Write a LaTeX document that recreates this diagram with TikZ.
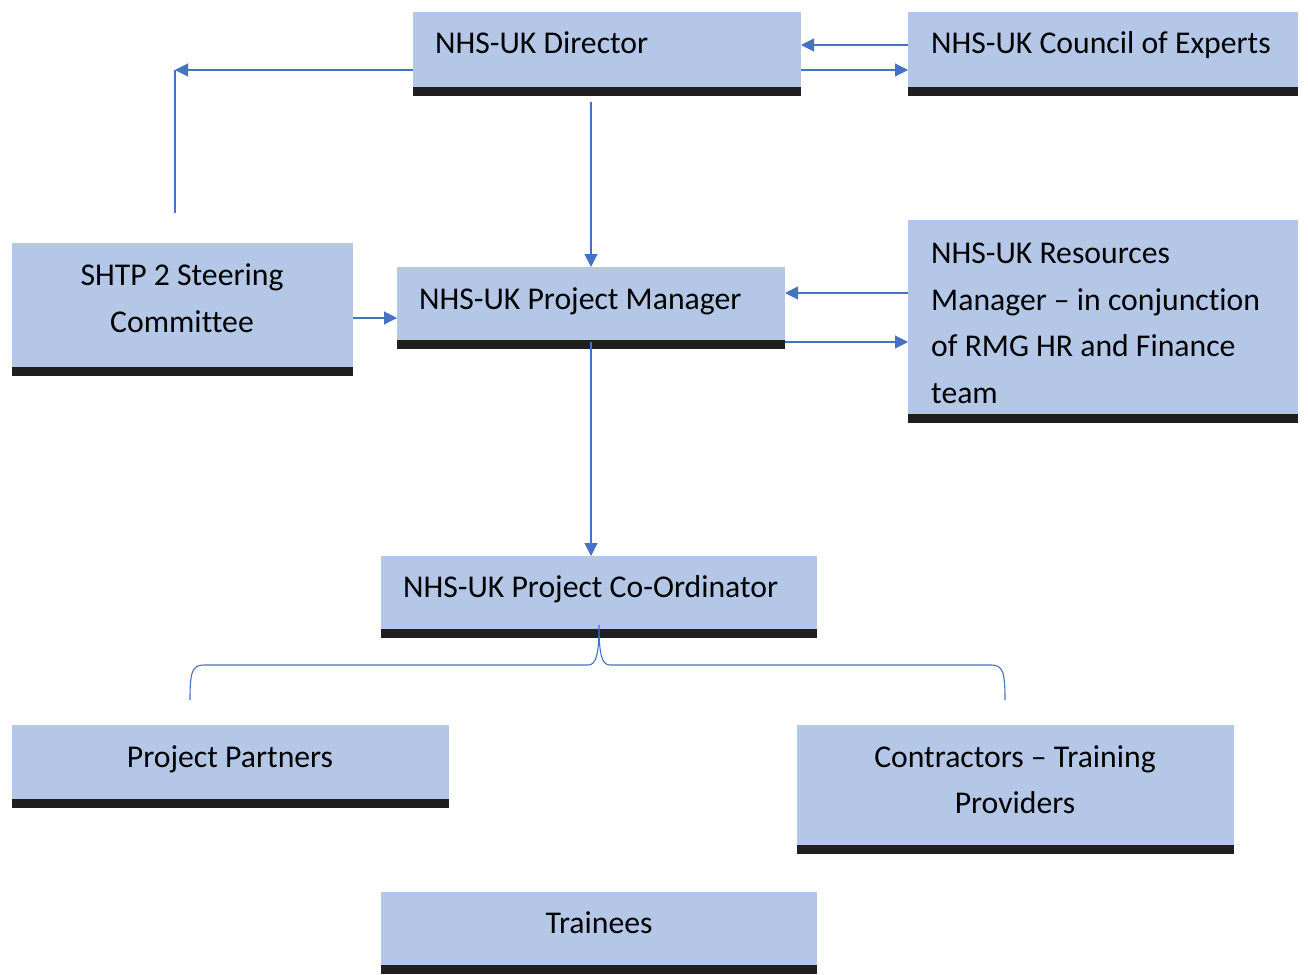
\documentclass[tikz,border=0pt]{standalone}
\usepackage{fontspec}
\setmainfont[Ligatures={NoCommon}]{Carlito}
\usetikzlibrary{shadows,arrows.meta}
\definecolor{boxblue}{HTML}{B4C7E7}
\definecolor{lineblue}{HTML}{4472C4}
\begin{document}
\begin{tikzpicture}[x=1pt,y=-1pt,
  box/.style={fill=boxblue, inner sep=0pt, outer sep=0pt, anchor=north west,
    drop shadow={shadow xshift=0pt, shadow yshift=-9pt, fill=black, opacity=0.88}},
  lbl/.style={font=\fontsize{31.7}{47}\selectfont, inner sep=0pt, text=black},
  conn/.style={draw=lineblue, line width=1.1pt},
  arr/.style={conn, -{Triangle[length=13pt,width=13pt]}}]
\useasboundingbox (0,0) rectangle (1308,974);
% boxes
\node[box, minimum width=388pt, minimum height=75pt] (dir) at (413,12) {};
\node[box, minimum width=390pt, minimum height=75pt] (coun) at (908,12) {};
\node[box, minimum width=341pt, minimum height=124pt] (shtp) at (12,243) {};
\node[box, minimum width=388pt, minimum height=73pt] (pm) at (397,267) {};
\node[box, minimum width=390pt, minimum height=194pt] (res) at (908,220) {};
\node[box, minimum width=436pt, minimum height=73pt] (coord) at (381,556) {};
\node[box, minimum width=437pt, minimum height=74pt] (part) at (12,725) {};
\node[box, minimum width=437pt, minimum height=120pt] (contr) at (797,725) {};
\node[box, minimum width=436pt, minimum height=73pt] (train) at (381,892) {};
% texts
\node[lbl, anchor=base west] (tdir) at (435,53) {NHS-UK Director};
\node[lbl, anchor=base west] (tcoun) at (931,53) {NHS-UK Council of Experts};
\node[lbl, anchor=base] (tshtpa) at (182,285) {SHTP 2 Steering};
\node[lbl, anchor=base] (tshtpb) at (182,332) {Committee};
\node[lbl, anchor=base west] (tpm) at (419,309) {NHS-UK Project Manager};
\node[lbl, anchor=base west] (tresa) at (931,263) {NHS-UK Resources};
\node[lbl, anchor=base west] (tresb) at (931,310) {Manager -- in conjunction};
\node[lbl, anchor=base west] (tresc) at (931,356) {of RMG HR and Finance};
\node[lbl, anchor=base west] (tresd) at (931,403) {team};
\node[lbl, anchor=base west] (tcoord) at (403,597) {NHS-UK Project Co-Ordinator};
\node[lbl, anchor=base] (tpart) at (230,767) {Project Partners};
\node[lbl, anchor=base] (tcontra) at (1015,767) {Contractors -- Training};
\node[lbl, anchor=base] (tcontrb) at (1015,813) {Providers};
\node[lbl, anchor=base] (ttrain) at (599,933) {Trainees};
% helper coordinates
\coordinate (h45) at (0,45);
\coordinate (h70) at (0,70);
\coordinate (h293) at (0,293);
\coordinate (h318) at (0,318);
\coordinate (h342) at (0,342);
\coordinate (sc) at (175,70);
\coordinate (sb) at (175,213);
\coordinate (dstart) at (591,102);
\coordinate (pstart) at (591,342);
\coordinate (btip) at (599,625);
\coordinate (bl) at (190,700);
\coordinate (br) at (1005,700);
% connectors
\draw[arr] (coun.west |- h45) -- (dir.east |- h45);
\draw[arr] (dir.east |- h70) -- (coun.west |- h70);
\draw[arr] (dir.west |- h70) -- (sc);
\draw[conn] (sc) -- (sb);
\draw[arr] (dstart) -- (pm.north);
\draw[arr] (shtp.east |- h318) -- (pm.west |- h318);
\draw[arr] (res.west |- h293) -- (pm.east |- h293);
\draw[arr] (pm.east |- h342) -- (res.west |- h342);
\draw[arr] (pstart) -- (coord.north -| pstart);
% brace
\draw[conn] (bl) .. controls (190,672) and (192,665) .. (204,665) -- (588,665)
  .. controls (596,665) and (599,655) .. (btip)
  .. controls (599,655) and (602,665) .. (610,665) -- (991,665)
  .. controls (1003,665) and (1005,672) .. (br);
\end{tikzpicture}
\end{document}
